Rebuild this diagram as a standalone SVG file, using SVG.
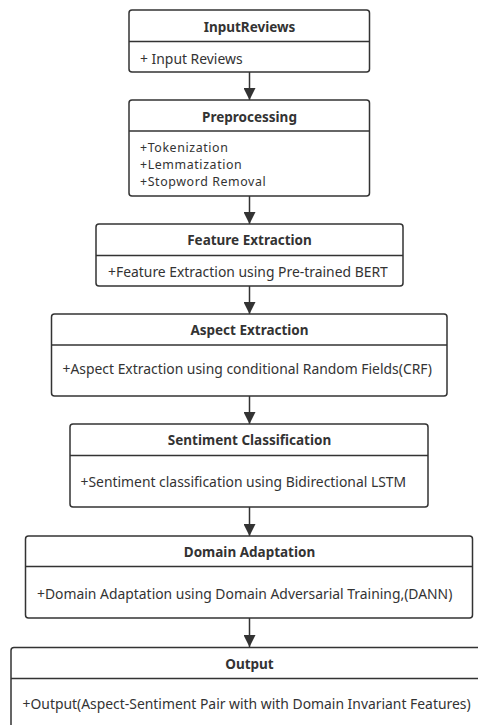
<svg xmlns="http://www.w3.org/2000/svg" width="478" height="725" viewBox="0 0 478 725">
<defs>
<style>
.box{fill:#fff;stroke:#333;stroke-width:1.5}
.div{stroke:#333;stroke-width:1.5}
.t{font-family:"Noto Sans","Open Sans",sans-serif;font-size:13.5px;font-weight:bold;fill:#333;text-anchor:middle;dominant-baseline:central}
.i{font-family:"Noto Sans","Open Sans",sans-serif;font-size:13.9px;fill:#333;dominant-baseline:central}
.s{font-size:12.4px;letter-spacing:0.6px}
.c{stroke:#333;stroke-width:1.5;fill:none}
</style>
<marker id="ah" markerWidth="12" markerHeight="12" viewBox="0 0 12 12" refX="12" refY="6" orient="auto" markerUnits="userSpaceOnUse">
<path d="M0,0 L12,6 L0,12 Z" fill="#333"/>
</marker>
</defs>
<g id="connectors">
<line class="c" x1="249.5" y1="72" x2="249.5" y2="100" marker-end="url(#ah)"/>
<line class="c" x1="249.5" y1="196" x2="249.5" y2="224" marker-end="url(#ah)"/>
<line class="c" x1="249.5" y1="286" x2="249.5" y2="314" marker-end="url(#ah)"/>
<line class="c" x1="249.5" y1="396" x2="249.5" y2="424" marker-end="url(#ah)"/>
<line class="c" x1="249.5" y1="507" x2="249.5" y2="536" marker-end="url(#ah)"/>
<line class="c" x1="249.5" y1="618" x2="249.5" y2="647" marker-end="url(#ah)"/>
</g>
<g id="inputreviews">
<rect class="box" x="129" y="10" width="240.5" height="62" rx="3"/>
<line class="div" x1="129" y1="41.5" x2="369.5" y2="41.5"/>
<text class="t" x="249.5" y="27">InputReviews</text>
<text class="i" x="140" y="58">+ Input Reviews</text>
</g>
<g id="preprocessing">
<rect class="box" x="129" y="100" width="240.5" height="96" rx="3"/>
<line class="div" x1="129" y1="131" x2="369.5" y2="131"/>
<text class="t" x="249.5" y="117">Preprocessing</text>
<text class="i s" x="140" y="147.5">+Tokenization</text>
<text class="i s" x="140" y="164.5">+Lemmatization</text>
<text class="i s" x="140" y="181.5">+Stopword Removal</text>
</g>
<g id="feature">
<rect class="box" x="96" y="224" width="307" height="62" rx="3"/>
<line class="div" x1="96" y1="255.5" x2="403" y2="255.5"/>
<text class="t" x="249.5" y="240">Feature Extraction</text>
<text class="i" x="108" y="271.5">+Feature Extraction using Pre-trained BERT</text>
</g>
<g id="aspect">
<rect class="box" x="51.5" y="314" width="395.5" height="82" rx="3"/>
<line class="div" x1="51.5" y1="345" x2="447" y2="345"/>
<text class="t" x="249.5" y="330">Aspect Extraction</text>
<text class="i" x="62.5" y="368">+Aspect Extraction using conditional Random Fields(CRF)</text>
</g>
<g id="sentiment">
<rect class="box" x="70" y="424" width="358" height="83" rx="3"/>
<line class="div" x1="70" y1="455.5" x2="428" y2="455.5"/>
<text class="t" x="249.5" y="440">Sentiment Classification</text>
<text class="i" x="80.5" y="481.5">+Sentiment classification using Bidirectional LSTM</text>
</g>
<g id="domain">
<rect class="box" x="25.5" y="536" width="447" height="82" rx="3"/>
<line class="div" x1="25.5" y1="566.5" x2="472.5" y2="566.5"/>
<text class="t" x="249.5" y="552">Domain Adaptation</text>
<text class="i" x="37" y="593">+Domain Adaptation using Domain Adversarial Training,(DANN)</text>
</g>
<g id="output">
<rect class="box" x="11" y="647.5" width="490" height="110" rx="3"/>
<line class="div" x1="11" y1="678.5" x2="478" y2="678.5"/>
<text class="t" x="249.5" y="664">Output</text>
<text class="i" x="22.5" y="703">+Output(Aspect-Sentiment Pair with with Domain Invariant Features)</text>
</g>
</svg>
